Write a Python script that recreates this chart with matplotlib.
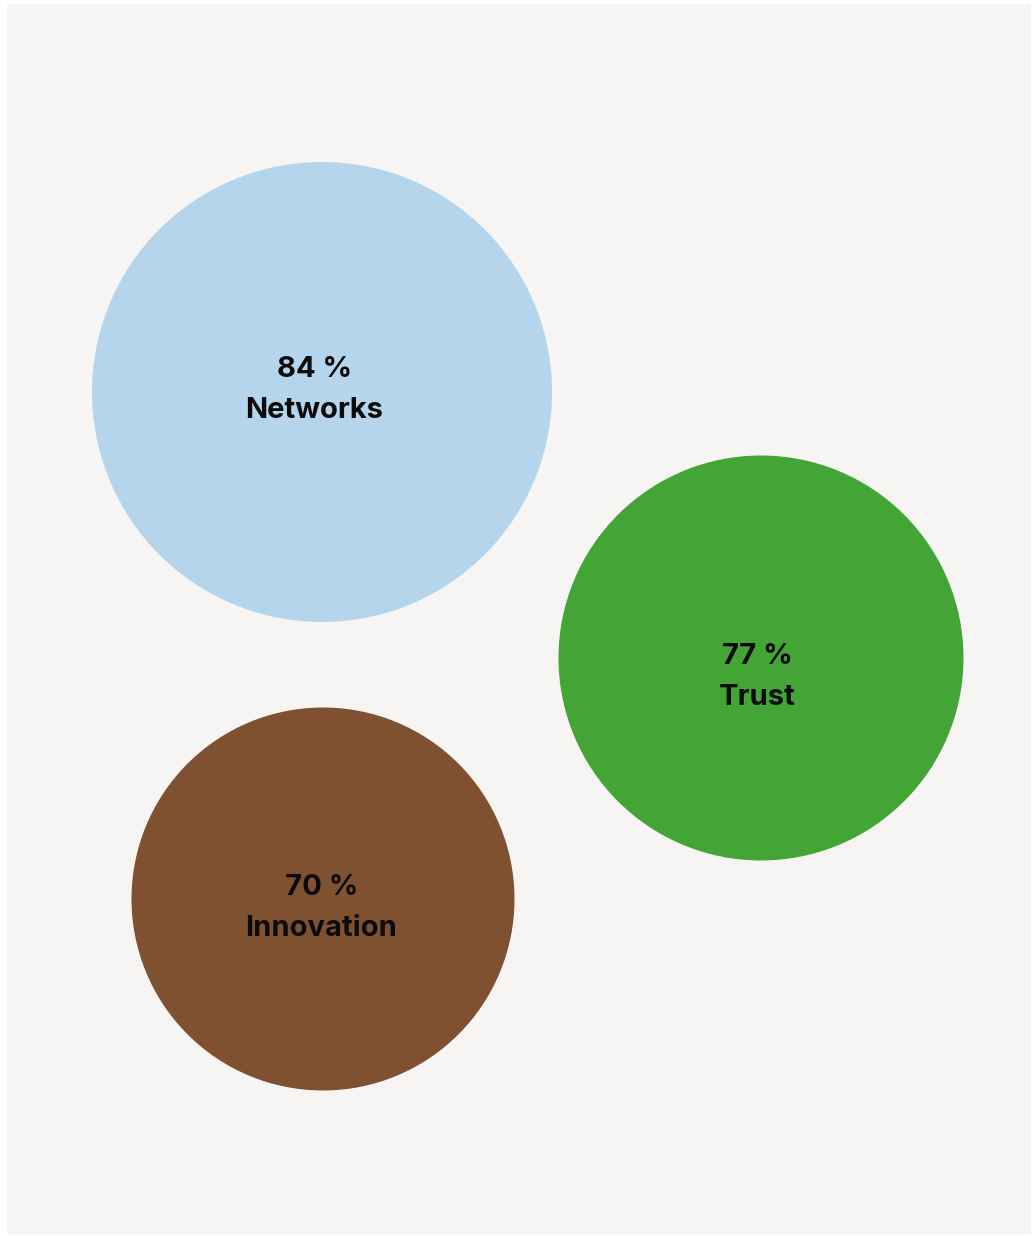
import matplotlib
matplotlib.use("Agg")
import matplotlib.pyplot as plt
from matplotlib.patches import Circle, Rectangle

# data
labels = ["Networks", "Trust", "Innovation"]
values = [84, 77, 70]
colors = ["#b5d5ec", "#42a535", "#7f5131"]

# layout (pixel space, from the packed bubble layout)
centers = [(322, 392), (761, 658), (323, 899)]
radii = [230, 202.5, 191.5]
text_x = [314.5, 757, 321.5]
text_base = [377, 664, 895]  # baseline of the value line

W, H = 1035, 1236
fig = plt.figure(figsize=(W / 100, H / 100), dpi=100)
fig.patch.set_facecolor("white")
ax = fig.add_axes([0, 0, 1, 1])
ax.set_xlim(0, W)
ax.set_ylim(H, 0)
ax.axis("off")

# panel background
ax.add_patch(Rectangle((7, 4), 1024, 1231, facecolor="#f7f5f3", edgecolor="none"))

for lab, val, col, c, r, tx, tb in zip(labels, values, colors, centers, radii, text_x, text_base):
    ax.add_patch(Circle(c, r, facecolor=col, edgecolor="none"))
    ax.text(tx, tb, "%d %%" % val, ha="center", va="baseline",
            fontsize=21, fontweight="bold", family="Inter", color="#0b0b0b")
    ax.text(tx, tb + 41, lab, ha="center", va="baseline",
            fontsize=21, fontweight="bold", family="Inter", color="#0b0b0b")

fig.savefig("out.png", dpi=100)
